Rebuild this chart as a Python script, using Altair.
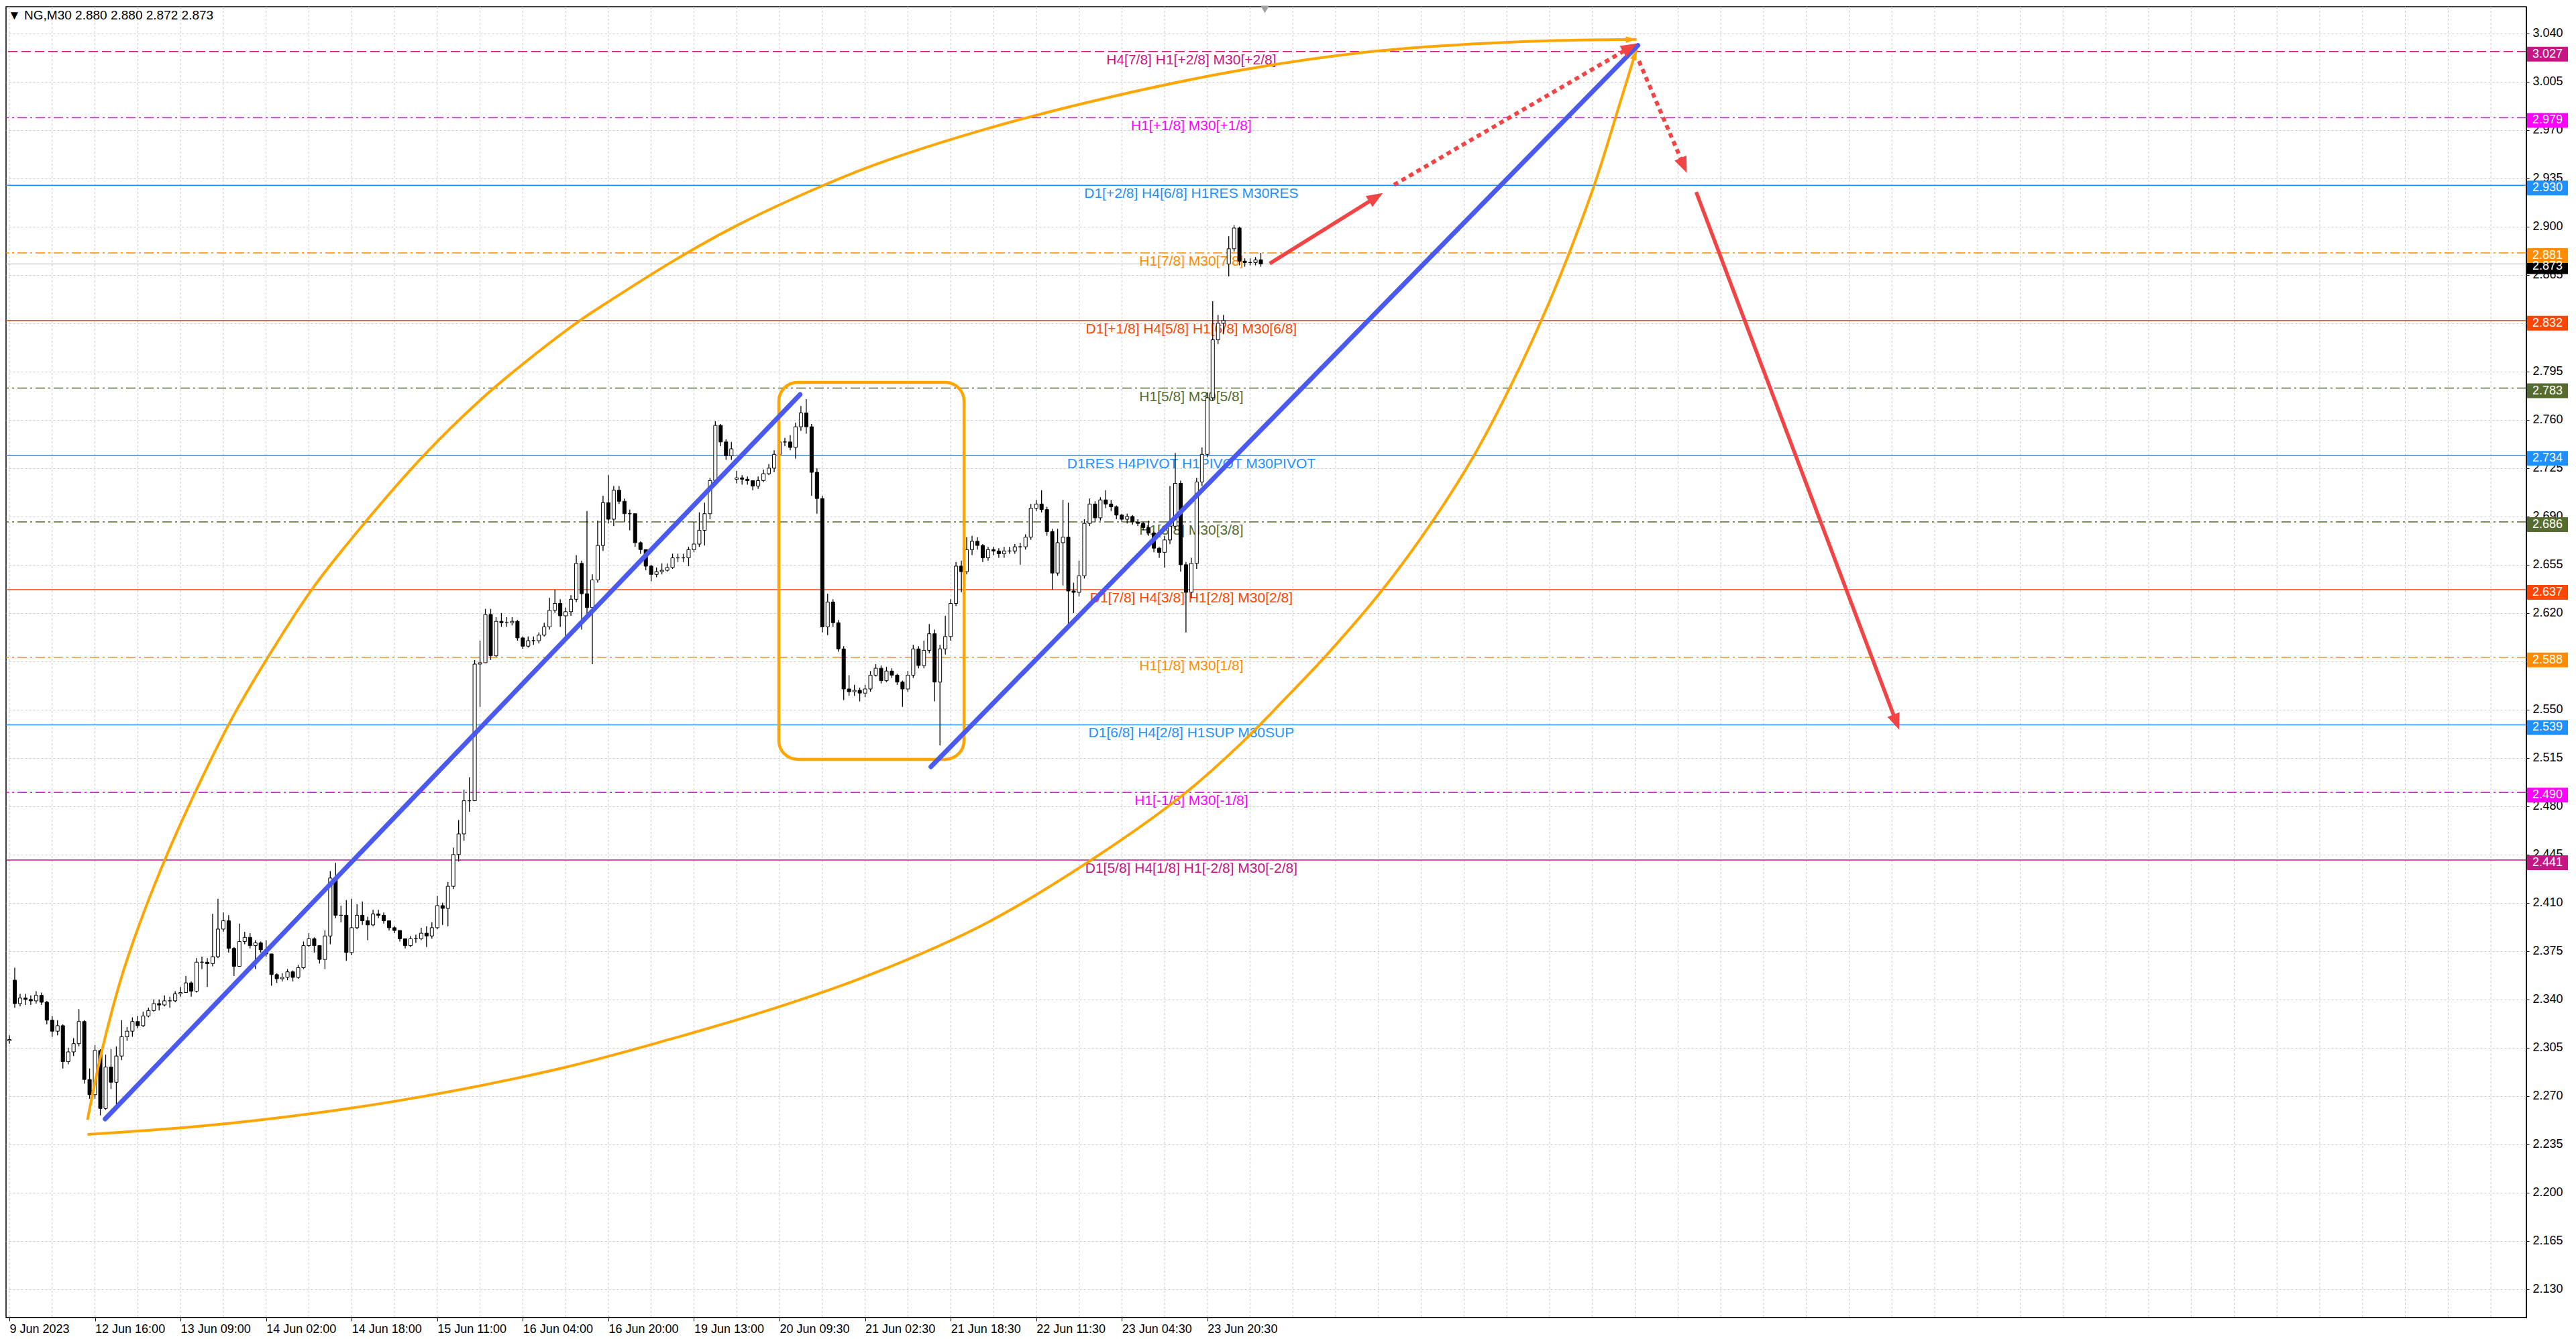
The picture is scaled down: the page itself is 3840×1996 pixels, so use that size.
import math
import altair as alt
import pandas as pd

# ---------------- data ----------------
TITLE = "\u25BC NG,M30  2.880 2.880 2.872 2.873"

# hourly candles (bar index step 2 of the M30 series)
CLOSE = [
    2.311, 2.337, 2.341, 2.340, 2.339, 2.343, 2.338, 2.325, 2.317, 2.321,
    2.295, 2.302, 2.308, 2.324, 2.282, 2.271, 2.303, 2.261, 2.291, 2.280,
    2.299, 2.313, 2.317, 2.324, 2.321, 2.328, 2.332, 2.337, 2.336, 2.339,
    2.339, 2.344, 2.345, 2.352, 2.346, 2.367, 2.367, 2.366, 2.371, 2.391,
    2.397, 2.377, 2.364, 2.382, 2.385, 2.379, 2.381, 2.376, 2.373, 2.358,
    2.355, 2.356, 2.360, 2.356, 2.363, 2.379, 2.384, 2.379, 2.369, 2.386,
    2.428, 2.401, 2.401, 2.374, 2.392, 2.401, 2.397, 2.394, 2.402, 2.401,
    2.397, 2.392, 2.390, 2.384, 2.379, 2.384, 2.384, 2.388, 2.386, 2.392,
    2.408, 2.406, 2.422, 2.445, 2.460, 2.484, 2.484, 2.583, 2.584, 2.619,
    2.589, 2.614, 2.613, 2.613, 2.614, 2.602, 2.596, 2.600, 2.600, 2.604,
    2.610, 2.622, 2.627, 2.618, 2.621, 2.630, 2.656, 2.634, 2.624, 2.644,
    2.669, 2.700, 2.688, 2.709, 2.701, 2.692, 2.692, 2.671, 2.666, 2.654,
    2.648, 2.650, 2.651, 2.653, 2.660, 2.660, 2.660, 2.666, 2.670, 2.680,
    2.692, 2.716, 2.756, 2.744, 2.734, 2.739, 2.718, 2.717, 2.716, 2.712,
    2.716, 2.721, 2.725, 2.735, 2.744, 2.744, 2.740, 2.755, 2.765, 2.755,
    2.722, 2.703, 2.610, 2.628, 2.613, 2.594, 2.565, 2.563, 2.564, 2.562,
    2.565, 2.575, 2.580, 2.571, 2.578, 2.575, 2.570, 2.565, 2.575, 2.594,
    2.582, 2.593, 2.605, 2.570, 2.594, 2.603, 2.627, 2.654, 2.650, 2.666,
    2.672, 2.669, 2.660, 2.666, 2.665, 2.663, 2.665, 2.665, 2.668, 2.668,
    2.675, 2.696, 2.699, 2.695, 2.679, 2.649, 2.671, 2.675, 2.636, 2.635,
    2.647, 2.685, 2.699, 2.689, 2.702, 2.699, 2.697, 2.691, 2.688, 2.690,
    2.686, 2.685, 2.682, 2.678, 2.667, 2.664, 2.673, 2.683, 2.714, 2.655,
    2.635, 2.656, 2.715, 2.735, 2.776, 2.818, 2.830, 2.832, 2.884, 2.899,
    2.875, 2.874, 2.874, 2.876, 2.873,
]
HIGH = [
    2.314, 2.363, 2.344, 2.344, 2.343, 2.346, 2.345, 2.339, 2.328, 2.325,
    2.322, 2.305, 2.312, 2.333, 2.325, 2.290, 2.307, 2.304, 2.300, 2.304,
    2.306, 2.325, 2.320, 2.327, 2.328, 2.331, 2.334, 2.340, 2.340, 2.343,
    2.342, 2.346, 2.349, 2.357, 2.353, 2.370, 2.371, 2.370, 2.402, 2.413,
    2.403, 2.401, 2.378, 2.395, 2.389, 2.388, 2.383, 2.382, 2.383, 2.372,
    2.359, 2.359, 2.362, 2.361, 2.365, 2.382, 2.388, 2.385, 2.378, 2.390,
    2.433, 2.439, 2.408, 2.412, 2.413, 2.409, 2.411, 2.400, 2.405, 2.405,
    2.403, 2.397, 2.393, 2.390, 2.384, 2.386, 2.387, 2.392, 2.393, 2.396,
    2.415, 2.410, 2.425, 2.450, 2.470, 2.492, 2.501, 2.586, 2.600, 2.623,
    2.623, 2.617, 2.620, 2.617, 2.617, 2.615, 2.603, 2.603, 2.603, 2.606,
    2.613, 2.631, 2.637, 2.630, 2.624, 2.633, 2.662, 2.658, 2.694, 2.648,
    2.687, 2.705, 2.720, 2.712, 2.712, 2.703, 2.695, 2.686, 2.672, 2.664,
    2.655, 2.653, 2.656, 2.656, 2.663, 2.663, 2.663, 2.668, 2.686, 2.693,
    2.700, 2.718, 2.759, 2.757, 2.746, 2.744, 2.723, 2.720, 2.719, 2.716,
    2.719, 2.724, 2.728, 2.738, 2.750, 2.747, 2.749, 2.758, 2.770, 2.775,
    2.757, 2.725, 2.705, 2.634, 2.630, 2.615, 2.596, 2.575, 2.568, 2.566,
    2.568, 2.578, 2.583, 2.582, 2.581, 2.580, 2.576, 2.571, 2.578, 2.597,
    2.596, 2.600, 2.612, 2.608, 2.597, 2.618, 2.630, 2.657, 2.658, 2.675,
    2.676, 2.675, 2.670, 2.668, 2.668, 2.667, 2.668, 2.668, 2.670, 2.671,
    2.677, 2.699, 2.702, 2.709, 2.697, 2.681, 2.681, 2.702, 2.700, 2.642,
    2.658, 2.688, 2.703, 2.701, 2.704, 2.709, 2.702, 2.698, 2.692, 2.692,
    2.691, 2.688, 2.686, 2.687, 2.679, 2.668, 2.676, 2.712, 2.736, 2.716,
    2.657, 2.660, 2.718, 2.740, 2.780, 2.846, 2.836, 2.836, 2.893, 2.901,
    2.900, 2.877, 2.877, 2.878, 2.881,
]
LOW = [
    2.308, 2.334, 2.335, 2.336, 2.336, 2.337, 2.336, 2.322, 2.313, 2.314,
    2.290, 2.293, 2.299, 2.306, 2.279, 2.268, 2.268, 2.256, 2.260, 2.275,
    2.264, 2.296, 2.310, 2.313, 2.319, 2.320, 2.327, 2.331, 2.332, 2.335,
    2.334, 2.338, 2.342, 2.345, 2.342, 2.345, 2.362, 2.349, 2.364, 2.370,
    2.389, 2.374, 2.357, 2.365, 2.380, 2.377, 2.362, 2.374, 2.371, 2.350,
    2.352, 2.353, 2.354, 2.353, 2.355, 2.362, 2.378, 2.374, 2.366, 2.362,
    2.380, 2.399, 2.396, 2.368, 2.372, 2.391, 2.394, 2.383, 2.393, 2.399,
    2.395, 2.390, 2.388, 2.382, 2.377, 2.378, 2.381, 2.383, 2.378, 2.384,
    2.391, 2.394, 2.393, 2.420, 2.440, 2.455, 2.476, 2.507, 2.552, 2.584,
    2.586, 2.588, 2.610, 2.610, 2.611, 2.600, 2.594, 2.595, 2.597, 2.598,
    2.603, 2.608, 2.620, 2.610, 2.602, 2.618, 2.628, 2.608, 2.618, 2.583,
    2.642, 2.665, 2.685, 2.683, 2.699, 2.686, 2.680, 2.668, 2.663, 2.651,
    2.643, 2.646, 2.648, 2.650, 2.652, 2.657, 2.657, 2.654, 2.664, 2.668,
    2.669, 2.688, 2.714, 2.741, 2.731, 2.731, 2.714, 2.713, 2.713, 2.709,
    2.710, 2.715, 2.720, 2.722, 2.733, 2.741, 2.738, 2.732, 2.752, 2.750,
    2.705, 2.692, 2.606, 2.604, 2.610, 2.592, 2.557, 2.560, 2.560, 2.556,
    2.559, 2.563, 2.574, 2.569, 2.570, 2.573, 2.568, 2.552, 2.563, 2.573,
    2.580, 2.580, 2.591, 2.556, 2.524, 2.590, 2.600, 2.625, 2.635, 2.648,
    2.662, 2.666, 2.657, 2.658, 2.662, 2.660, 2.660, 2.663, 2.663, 2.655,
    2.666, 2.673, 2.694, 2.693, 2.676, 2.637, 2.647, 2.640, 2.612, 2.620,
    2.632, 2.645, 2.683, 2.686, 2.687, 2.696, 2.694, 2.688, 2.686, 2.685,
    2.684, 2.683, 2.680, 2.676, 2.664, 2.660, 2.653, 2.670, 2.680, 2.650,
    2.606, 2.631, 2.652, 2.712, 2.733, 2.774, 2.815, 2.822, 2.864, 2.882,
    2.872, 2.871, 2.872, 2.872, 2.871,
]
# opens that differ from the previous close (session gaps)
OPEN_AT_GAP = {0: 2.310, 2: 2.354, 272: 2.717, 456: 2.873}

LEVEL_PRICE = [3.027, 2.979, 2.930, 2.881, 2.832, 2.783, 2.734, 2.686, 2.637, 2.588, 2.539, 2.490, 2.441]
LEVEL_TEXT = [
    "H4[7/8] H1[+2/8] M30[+2/8]",
    "H1[+1/8] M30[+1/8]",
    "D1[+2/8] H4[6/8] H1RES M30RES",
    "H1[7/8] M30[7/8]",
    "D1[+1/8] H4[5/8] H1[6/8] M30[6/8]",
    "H1[5/8] M30[5/8]",
    "D1RES H4PIVOT H1PIVOT M30PIVOT",
    "H1[3/8] M30[3/8]",
    "D1[7/8] H4[3/8] H1[2/8] M30[2/8]",
    "H1[1/8] M30[1/8]",
    "D1[6/8] H4[2/8] H1SUP M30SUP",
    "H1[-1/8] M30[-1/8]",
    "D1[5/8] H4[1/8] H1[-2/8] M30[-2/8]",
]
LEVEL_COLOR = ["#C71585", "#FF00FF", "#1E90FF", "#FF8C00", "#FF4500", "#556B2F", "#1E90FF",
               "#556B2F", "#FF4500", "#FF8C00", "#1E90FF", "#FF00FF", "#C71585"]
LEVEL_STYLE = ["dash", "dashdot", "solid", "dashdot", "solid", "dashdot", "solid",
               "dashdot", "solid", "dashdot", "solid", "dashdot", "solid"]
LEVEL_LABEL_BAR = 442
LAST_PRICE = 2.873

Y_TICKS = [3.040, 3.005, 2.970, 2.935, 2.900, 2.865, 2.830, 2.795, 2.760, 2.725, 2.690, 2.655,
           2.620, 2.585, 2.550, 2.515, 2.480, 2.445, 2.410, 2.375, 2.340, 2.305, 2.270, 2.235,
           2.200, 2.165, 2.130]
X_TICK_BARS = [0, 32, 64, 96, 128, 160, 192, 224, 256, 288, 320, 352, 384, 416, 448]
X_TICK_TEXT = ["9 Jun 2023", "12 Jun 16:00", "13 Jun 09:00", "14 Jun 02:00", "14 Jun 18:00",
               "15 Jun 11:00", "16 Jun 04:00", "16 Jun 20:00", "19 Jun 13:00", "20 Jun 09:30",
               "21 Jun 02:30", "21 Jun 18:30", "22 Jun 11:30", "23 Jun 04:30", "23 Jun 20:30"]
GRID_BARS = [0, 16, 32, 48, 64, 80, 96, 112, 128, 144, 160, 176, 192, 208, 224, 240, 256, 272,
             288, 304, 320, 336, 352, 368, 384, 400, 416, 432, 448, 464, 480, 496, 512, 528, 544,
             560, 576, 592, 608, 624, 640, 656, 672, 688, 704, 720, 736, 752, 768, 784, 800, 816,
             832, 848, 864, 880, 896, 912, 928]

# drawings
UPPER_ARC_B = [29.2, 35.0, 43.3, 58.9, 81.7, 93.75, 113.0, 133.3, 155.05, 175.8, 191.6, 213.4,
               224.25, 248.75, 272.3, 303.4, 323.8, 366.0, 410.0, 461.3, 511.5, 561.7, 608.5]
UPPER_ARC_P = [2.2527, 2.3061, 2.3647, 2.4447, 2.5381, 2.5787, 2.6368, 2.6864, 2.7344, 2.7738,
               2.7998, 2.8321, 2.8459, 2.8757, 2.9011, 2.9291, 2.9450, 2.9712, 2.9932, 3.0137,
               3.0273, 3.0338, 3.0357]
LOWER_ARC_B = [29.2, 81.7, 143.8, 206.0, 247.5, 288.9, 323.8, 366.0, 410.0, 440.0, 461.3, 478.0,
               493.0, 513.2, 531.6, 547.5, 561.7, 575.1, 585.1, 593.5, 601.9, 608.5]
LOWER_ARC_P = [2.2422, 2.2501, 2.2661, 2.2900, 2.3114, 2.3354, 2.3594, 2.3960, 2.4480, 2.4900,
               2.5268, 2.5598, 2.5905, 2.6362, 2.6848, 2.7334, 2.7856, 2.8419, 2.8899, 2.9348,
               2.9870, 3.0286]
BLUE_LINES = [((35.8, 2.2534), (295.7, 2.7784)), ((344.6, 2.5086), (609.0, 3.0314))]
BOX = ((287.75, 2.7872), (357.0, 2.5140))
RED_SOLID = [((471.3, 2.8733), (513.6, 2.9244)), ((630.8, 2.9251), (706.7, 2.5355))]
RED_DOTTED = [((517.8, 2.9303), (608.6, 3.0328)), ((609.4, 3.0200), (627.3, 2.9390))]
SHIFT_MARK_BAR = 469.5

# ---------------- layout / style ----------------
W, H = 3757, 1954
X_DOM = [0, 940]
Y_DOM = [2.1095, 3.0594]
PXB = W / (X_DOM[1] - X_DOM[0])
PXP = H / (Y_DOM[1] - Y_DOM[0])
FONT = "Liberation Sans"
ORANGE = "#FFA500"
BLUE = "#4A5AF0"
RED = "#F24444"
HEAD = "M0,-1L0.8,1L-0.8,1Z"
SMALL_HEAD = "M0,-1L0.6,1L-0.6,1Z"

XS = alt.Scale(domain=X_DOM, nice=False, zero=False)
YS = alt.Scale(domain=Y_DOM, nice=False, zero=False)

label_expr = " : ".join(f"datum.value == {b} ? '{t}'" for b, t in zip(X_TICK_BARS, X_TICK_TEXT)) + " : ''"

X_AXIS = alt.Axis(values=X_TICK_BARS, labelExpr=label_expr, labelAlign="left", labelFont=FONT,
                  labelFontSize=18, labelColor="black", tickColor="black", tickSize=5,
                  domainColor="black", grid=False, title=None, labelPadding=3,
                  labelOverlap=False, labelFlush=False, labelBound=False)
Y_AXIS = alt.Axis(orient="right", values=Y_TICKS, format=".3f", grid=True, gridColor="#c8c8c8",
                  gridDash=[3, 3], gridWidth=1, labelFont=FONT, labelFontSize=18,
                  labelColor="black", tickColor="black", tickSize=4, labelPadding=5,
                  domainColor="black", title=None, labelOverlap=False)


def X(f):
    return alt.X(f, scale=XS, axis=X_AXIS)


def Y(f):
    return alt.Y(f, scale=YS, axis=Y_AXIS)


# candles
rows = []
prev = None
for i, (c, h, l) in enumerate(zip(CLOSE, HIGH, LOW)):
    b = 2 * i
    o = OPEN_AT_GAP.get(b, prev)
    rows.append(dict(b=b, o=o, c=c, hi=max(h, o, c), lo=min(l, o, c)))
    prev = c
candles = pd.DataFrame(rows)

levels = pd.DataFrame(dict(p=LEVEL_PRICE, txt=LEVEL_TEXT, col=LEVEL_COLOR, style=LEVEL_STYLE,
                           lb=[LEVEL_LABEL_BAR] * len(LEVEL_PRICE)))
boxes = pd.DataFrame(dict(p=[LAST_PRICE] + LEVEL_PRICE, col=["#000000"] + LEVEL_COLOR))
boxes["yt"] = boxes["p"] + 7 / PXP
boxes["yb"] = boxes["p"] - 15 / PXP
boxes["yc"] = boxes["p"] - 4 / PXP
boxes["lab"] = boxes["p"].map(lambda v: f"{v:.3f}")


def arrow(b1, p1, b2, p2, head_len, back):
    dx = (b2 - b1) * PXB
    dy = (p2 - p1) * PXP
    n = math.hypot(dx, dy)
    ux, uy = dx / n, dy / n
    ang = math.degrees(math.atan2(ux, uy)) % 360
    cb = b2 - ux * head_len / 2 / PXB
    cp = p2 - uy * head_len / 2 / PXP
    eb = b2 - ux * back / PXB
    ep = p2 - uy * back / PXP
    return ang, cb, cp, eb, ep


def red_frames(segs):
    lines, heads = [], []
    for k, ((b1, p1), (b2, p2)) in enumerate(segs):
        ang, cb, cp, eb, ep = arrow(b1, p1, b2, p2, 24, 16)
        lines += [dict(seg=k, b=b1, p=p1), dict(seg=k, b=eb, p=ep)]
        heads.append(dict(b=cb, p=cp, ang=ang))
    return pd.DataFrame(lines), heads


red_solid_df, h1 = red_frames(RED_SOLID)
red_dot_df, h2 = red_frames(RED_DOTTED)
red_head_df = pd.DataFrame(h1 + h2)

arc_rows = [dict(arc="u", b=b, p=p) for b, p in zip(UPPER_ARC_B, UPPER_ARC_P)] + \
           [dict(arc="l", b=b, p=p) for b, p in zip(LOWER_ARC_B, LOWER_ARC_P)]
arc_df = pd.DataFrame(arc_rows)
arc_heads = []
for bs, ps in ((UPPER_ARC_B, UPPER_ARC_P), (LOWER_ARC_B, LOWER_ARC_P)):
    ang, cb, cp, _, _ = arrow(bs[-2], ps[-2], bs[-1], ps[-1], 16, 0)
    arc_heads.append(dict(b=cb, p=cp, ang=ang))
arc_head_df = pd.DataFrame(arc_heads)

blue_df = pd.DataFrame([dict(seg=i, b=b, p=p) for i, seg in enumerate(BLUE_LINES) for (b, p) in seg])
box_df = pd.DataFrame([dict(b1=BOX[0][0], p1=BOX[0][1], b2=BOX[1][0], p2=BOX[1][1])])
grid_df = pd.DataFrame(dict(b=GRID_BARS))

# ---------------- layers ----------------
vgrid = alt.Chart(grid_df).mark_rule(color="#c8c8c8", strokeDash=[3, 3], strokeWidth=1).encode(x=X("b:Q"))

level_rules = alt.Chart(levels).mark_rule(strokeWidth=1.5).encode(
    y=Y("p:Q"),
    color=alt.Color("col:N", scale=None),
    strokeDash=alt.StrokeDash("style:N", scale=alt.Scale(domain=["solid", "dash", "dashdot"],
                                                         range=[[1, 0], [14, 6], [14, 5, 3, 5]]),
                              legend=None),
)
price_line = alt.Chart(pd.DataFrame(dict(p=[LAST_PRICE]))).mark_rule(
    color="#b4b4b4", strokeWidth=1).encode(y=Y("p:Q"))

level_text = alt.Chart(levels).mark_text(font=FONT, fontSize=21, baseline="top", align="center", dy=2).encode(
    x=X("lb:Q"), y=Y("p:Q"), text="txt:N", color=alt.Color("col:N", scale=None))

wicks = alt.Chart(candles).mark_rule(color="black", strokeWidth=1.3).encode(
    x=X("b:Q"), y=Y("lo:Q"), y2="hi:Q")
bodies = alt.Chart(candles).mark_bar(size=5, stroke="black", strokeWidth=1).encode(
    x=X("b:Q"), y=Y("o:Q"), y2="c:Q",
    fill=alt.condition("datum.c >= datum.o", alt.value("white"), alt.value("black")))

rect = alt.Chart(box_df).mark_rect(fill="white", fillOpacity=0, stroke=ORANGE, strokeWidth=4.5,
                                   cornerRadius=28).encode(
    x=X("b1:Q"), x2="b2:Q", y=Y("p1:Q"), y2="p2:Q")

arcs = alt.Chart(arc_df).mark_line(color=ORANGE, strokeWidth=4, interpolate="catmull-rom").encode(
    x=X("b:Q"), y=Y("p:Q"), detail="arc:N")
arc_tips = alt.Chart(arc_head_df).mark_point(shape=SMALL_HEAD, filled=True, size=256, color=ORANGE,
                                             opacity=1).encode(
    x=X("b:Q"), y=Y("p:Q"), angle=alt.Angle("ang:Q", scale=None))

blue = alt.Chart(blue_df).mark_line(color=BLUE, strokeWidth=7, strokeCap="round").encode(
    x=X("b:Q"), y=Y("p:Q"), detail="seg:N")

red_solid = alt.Chart(red_solid_df).mark_line(color=RED, strokeWidth=5.5).encode(
    x=X("b:Q"), y=Y("p:Q"), detail="seg:N")
red_dot = alt.Chart(red_dot_df).mark_line(color=RED, strokeWidth=6, strokeDash=[7, 6]).encode(
    x=X("b:Q"), y=Y("p:Q"), detail="seg:N")
red_tips = alt.Chart(red_head_df).mark_point(shape=HEAD, filled=True, size=576, color=RED, opacity=1).encode(
    x=X("b:Q"), y=Y("p:Q"), angle=alt.Angle("ang:Q", scale=None))

gutter = alt.Chart(boxes).mark_rect().encode(
    x=alt.value(W + 1), x2=alt.value(W + 62), y=Y("yt:Q"), y2="yb:Q",
    color=alt.Color("col:N", scale=None))
gutter_text = alt.Chart(boxes).mark_text(font=FONT, fontSize=18, align="left", baseline="middle",
                                         color="white").encode(
    x=alt.value(W + 9), y=Y("yc:Q"), text="lab:N")

title = alt.Chart(pd.DataFrame(dict(t=[TITLE]))).mark_text(
    font=FONT, fontSize=19, align="left", baseline="alphabetic", color="black").encode(
    x=alt.value(3), y=alt.value(19), text="t:N")
shift_mark = alt.Chart(pd.DataFrame(dict(b=[SHIFT_MARK_BAR]))).mark_point(
    shape="triangle-down", filled=True, size=160, color="#a0a0a0", opacity=1).encode(
    x=X("b:Q"), y=alt.value(4))

chart = alt.layer(
    vgrid, level_rules, price_line, level_text, wicks, bodies, rect, arcs, arc_tips, blue,
    red_solid, red_dot, red_tips, gutter, gutter_text, title, shift_mark,
).properties(
    width=W, height=H, padding=0, background="white",
).configure_view(stroke="black", strokeWidth=1.5)

chart.save("out.html", embed_options={"renderer": "svg", "actions": False})
